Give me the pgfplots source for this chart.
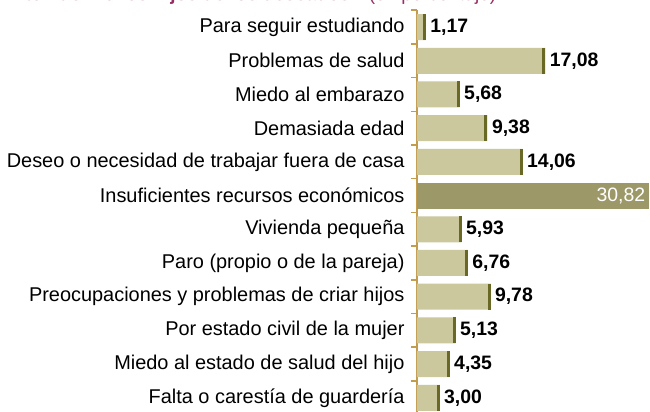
\documentclass[border=0pt]{standalone}
\usepackage{fontspec}
\setmainfont{Liberation Sans}
\usepackage{pgfplots}
\pgfplotsset{compat=1.18}
\usepackage{pgfplotstable}

\definecolor{barlight}{RGB}{202,200,156}
\definecolor{bardark}{RGB}{105,104,36}
\definecolor{barhi}{RGB}{156,152,104}
\definecolor{axiscol}{RGB}{196,156,78}
\definecolor{titlecol}{RGB}{150,45,100}

% motivos, en porcentaje (fila 5 destacada aparte)
\pgfplotstableread{
idx val lab
0 1.17 1,17
1 17.08 17,08
2 5.68 5,68
3 9.38 9,38
4 14.06 14,06
6 5.93 5,93
7 6.76 6,76
8 9.78 9,78
9 5.13 5,13
10 4.35 4,35
11 3.00 3,00
}\normales
\pgfplotstableread{
idx val lab
5 30.82 30,82
}\destacado

\newcommand{\txt}{\fontsize{19.5}{22}\selectfont}
\newcommand{\cat}{\fontsize{20}{22}\selectfont}

\begin{document}
\begin{tikzpicture}
\begin{axis}[name=ax, scale only axis, width=233bp, height=404.4bp,
    xmin=0, xmax=31, ymin=-0.5, ymax=11.5, y dir=reverse,
    axis x line=none, axis y line=left,
    axis line style={-, draw=axiscol, line width=1.8bp},
    ytick={0,...,11}, major tick length=0pt,
    minor ytick={-0.5,0.5,...,11.5}, minor tick length=6bp, tick align=outside,
    minor tick style={draw=axiscol, line width=1.5bp},
    yticklabels={Para seguir estudiando, Problemas de salud, Miedo al embarazo,
        Demasiada edad, Deseo o necesidad de trabajar fuera de casa,
        Insuficientes recursos económicos, Vivienda pequeña,
        Paro (propio o de la pareja), Preocupaciones y problemas de criar hijos,
        Por estado civil de la mujer, Miedo al estado de salud del hijo,
        Falta o carestía de guardería},
    yticklabel style={font=\cat, xshift=-9bp},
    clip=false]
    \addplot[xbar, bar shift=0pt, bar width=26bp, fill=barlight, draw=none,
        point meta=explicit symbolic, nodes near coords,
        nodes near coords style={anchor=west, font=\bfseries\txt, text=black, xshift=1bp}]
        table[x=val, y=idx, meta=lab] {\normales};
    \addplot[only marks, mark=|, mark size=13bp,
        mark options={line width=3bp, draw=bardark, xshift=-1.5bp}]
        table[x=val, y=idx] {\normales};
    \addplot[xbar, bar shift=0pt, bar width=26bp, fill=barhi, draw=none,
        point meta=explicit symbolic, nodes near coords,
        nodes near coords style={anchor=east, font=\txt, text=white}]
        table[x=val, y=idx, meta=lab] {\destacado};
\end{axis}
\node[anchor=base west, inner sep=0pt, text=titlecol, font=\fontsize{19}{22}\selectfont,
    xshift=-392bp, yshift=9.5bp] at (ax.north west)
    {\textbf{tenido menos hijos de los deseados?} (en porcentaje)};
\pgfresetboundingbox
\path[use as bounding box] (ax.north west) ++(-417bp,10.2bp) rectangle ++(650bp,-412bp);
\end{tikzpicture}
\end{document}
